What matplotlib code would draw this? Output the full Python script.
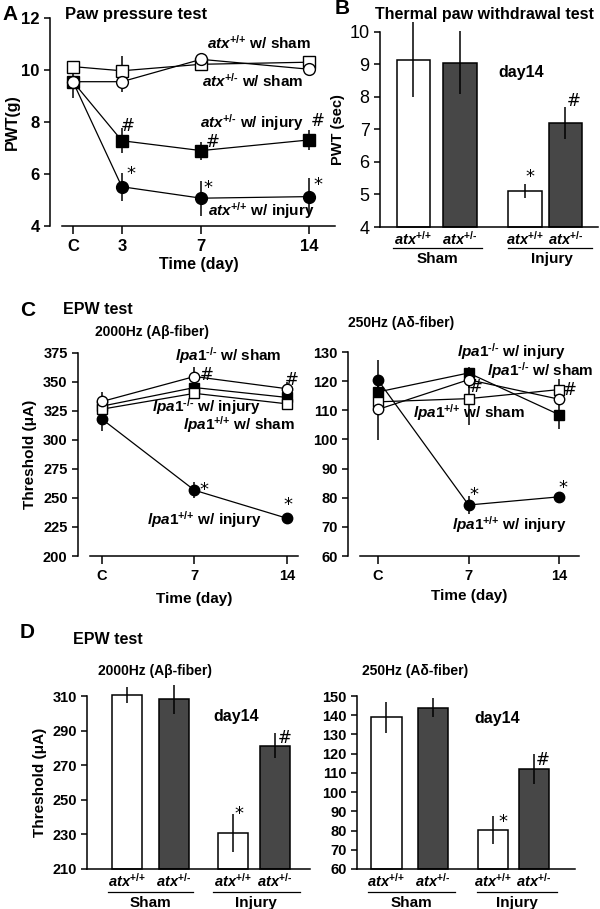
import matplotlib
matplotlib.use('Agg')
import matplotlib.pyplot as plt
from matplotlib.lines import Line2D

W, H = 600, 909

plt.rcParams['font.family'] = ['Liberation Sans', 'DejaVu Sans']
plt.rcParams['font.weight'] = 'bold'
plt.rcParams['axes.labelweight'] = 'bold'
plt.rcParams['mathtext.fontset'] = 'custom'
plt.rcParams['mathtext.rm'] = 'Liberation Sans:bold'
plt.rcParams['mathtext.it'] = 'Liberation Sans:italic:bold'
plt.rcParams['mathtext.bf'] = 'Liberation Sans:bold'
plt.rcParams['axes.linewidth'] = 1.1
plt.rcParams['xtick.major.width'] = 1.1
plt.rcParams['ytick.major.width'] = 1.1

# ---- panel A: paw pressure test, PWT (g)
days_a = ['C', '3', '7', '14']
xpos_a = [0, 2.9, 7.6, 14]
a_wt_sham = [9.55, 9.55, 10.41, 10.03]
a_wt_sham_err = [0.63, 0.4, 0.1, 0.1]
a_het_sham = [10.13, 9.97, 10.22, 10.3]
a_het_sham_err = [0.1, 0.57, 0.1, 0.1]
a_het_inj = [9.55, 7.28, 6.9, 7.31]
a_het_inj_err = [0.0, 0.48, 0.35, 0.37]
a_wt_inj = [9.55, 5.51, 5.07, 5.13]
a_wt_inj_err = [0.0, 0.53, 0.67, 0.7]

# ---- panel B: thermal paw withdrawal, day 14
WT = r'$atx^{\text{+/+}}$'
HET = r'$atx^{\text{+/-}}$'
bar_labels = [WT, HET, WT, HET]
b_pwt = [9.15, 9.05, 5.1, 7.2]
b_err = [1.15, 0.97, 0.22, 0.48]

# ---- panel C: EPW test time course, threshold (uA)
days_c = ['C', '7', '14']
c1_ko_sham = [333, 354.5, 344]
c1_ko_sham_err = [8, 8, 6]
c1_ko_inj = [329, 345, 336.5]
c1_ko_inj_err = [4, 4, 3]
c1_wt_sham = [326.4, 340, 331]
c1_wt_sham_err = [3, 3, 3]
c1_wt_inj = [317.8, 256.6, 232.5]
c1_wt_inj_err = [10, 7, 2]

c2_ko_sham = [110.3, 120.5, 113.8]
c2_ko_sham_err = [10.5, 3, 2]
c2_ko_inj = [116.3, 122.8, 108.5]
c2_ko_inj_err = [3, 2, 5]
c2_wt_sham = [112.9, 114, 117.1]
c2_wt_sham_err = [3, 9, 3.5]
c2_wt_inj = [120.3, 77.5, 80.3]
c2_wt_inj_err = [7, 3, 1]

# ---- panel D: EPW test day 14 bars
d1_vals = [310.8, 308.1, 230.8, 281.2]
d1_err = [4.6, 8.5, 11, 7.3]
d2_vals = [138.9, 143.9, 80.2, 112.0]
d2_err = [8.2, 5, 7.4, 8]

DARK = '#474747'
KO = r'$lpa1^{\text{-/-}}$'
LWT = r'$lpa1^{\text{+/+}}$'


def rect(l, t, r, b):
    return [l / W, 1 - b / H, (r - l) / W, (b - t) / H]


def ftext(x, y, s, **kw):
    kw.setdefault('va', 'center')
    kw.setdefault('ha', 'left')
    fig.text(x / W, 1 - y / H, s, **kw)


def hline(x1, x2, y):
    fig.add_artist(Line2D([x1 / W, x2 / W], [1 - y / H, 1 - y / H],
                          transform=fig.transFigure, color='k', lw=0.9))


def mark(ax, x, y, s, dx, dy, size=12):
    # '#' and '*' significance marks, offset in pixels from the point
    ax.annotate(s, (x, y), xytext=(dx * 0.72, dy * 0.72), textcoords='offset points',
                ha='center', va='center', fontsize=size, fontweight='normal',
                family='DejaVu Sans', annotation_clip=False)


def bold_ticks(ax):
    for t in ax.get_xticklabels() + ax.get_yticklabels():
        t.set_fontweight('bold')


def series(ax, x, y, err, marker, filled, ms):
    ax.errorbar(x, y, yerr=err, color='k', lw=0.9, elinewidth=1.1, capsize=0,
                marker=marker, ms=ms, mfc='k' if filled else 'white', mec='k',
                mew=1.0, zorder=3 if filled else 4, clip_on=False)


def line_axes(ax, outward):
    ax.spines['top'].set_visible(False)
    ax.spines['right'].set_visible(False)
    ax.spines['left'].set_position(('outward', outward * 0.72))


def bar_panel(ax, pos, vals, err, width, base):
    colors = ['white', DARK, 'white', DARK]
    heights = [v - base for v in vals]
    bars = ax.bar(pos, heights, bottom=base, width=width, color=colors,
                  edgecolor='k', lw=1.1, zorder=2)
    for b in bars:
        b.set_clip_on(False)
    ax.errorbar(pos, vals, yerr=err, fmt='none', ecolor='k', elinewidth=1.1,
                capsize=0, zorder=3, clip_on=False)
    ax.spines['top'].set_visible(False)
    ax.spines['right'].set_visible(False)
    ax.set_xticks(pos)
    ax.set_xticklabels(bar_labels, fontsize=10.5)
    ax.tick_params(axis='x', length=0, pad=2)


fig = plt.figure(figsize=(W / 100, H / 100), dpi=100)

# ================= A
axA = fig.add_axes(rect(62, 18, 335, 226))
series(axA, xpos_a, a_wt_inj, a_wt_inj_err, 'o', True, 8.5)
series(axA, xpos_a, a_het_inj, a_het_inj_err, 's', True, 8.5)
series(axA, xpos_a, a_het_sham, a_het_sham_err, 's', False, 8.5)
series(axA, xpos_a, a_wt_sham, a_wt_sham_err, 'o', False, 8.5)
axA.set_xlim(-0.65, 15.54)
axA.set_ylim(4, 12)
axA.set_yticks([4, 6, 8, 10, 12])
axA.set_xticks(xpos_a)
axA.set_xticklabels(days_a)
axA.tick_params(labelsize=12)
axA.tick_params(axis='y', length=4)
axA.tick_params(axis='x', length=6)
bold_ticks(axA)
line_axes(axA, 12)
axA.set_ylabel('PWT(g)', fontsize=11.5, labelpad=1)
axA.set_xlabel('Time (day)', fontsize=11.5, labelpad=2)
for i in [1, 2, 3]:
    mark(axA, xpos_a[i], a_het_inj[i], '#', [6, 12, 9][i - 1], [15, 9, 19][i - 1])
    mark(axA, xpos_a[i], a_wt_inj[i], '*', [9, 7, 9][i - 1], [13, 10, 12][i - 1], 13)
ftext(2, 14, 'A', fontsize=15)
ftext(65, 15, 'Paw pressure test', fontsize=12)
ftext(207, 43, r'$atx^{\text{+/+}}$ w/ sham', fontsize=11)
ftext(202, 81, r'$atx^{\text{+/-}}$ w/ sham', fontsize=11)
ftext(200, 123, r'$atx^{\text{+/-}}$ w/ injury', fontsize=11)
ftext(208, 211, r'$atx^{\text{+/+}}$ w/ injury', fontsize=11)

# ================= B
axB = fig.add_axes(rect(380, 32, 598, 227))
pos_b = [0, 1, 2.4, 3.27]
bar_panel(axB, pos_b, b_pwt, b_err, 0.72, 4)
axB.set_xlim(-0.72, 3.97)
axB.set_ylim(4, 10)
axB.set_yticks(range(4, 11))
axB.set_yticklabels([str(v) for v in range(4, 11)])
axB.tick_params(axis='y', labelsize=13, length=4)
for t in axB.get_xticklabels():
    t.set_fontweight('bold')
for t in axB.get_yticklabels():
    t.set_fontweight('normal')
axB.set_ylabel('PWT (sec)', fontsize=10.5, labelpad=3)
mark(axB, pos_b[2], b_pwt[2], '*', 5, 7 + 0.22 * 32.5, 13)
mark(axB, pos_b[3], b_pwt[3], '#', 8, 11 + 0.48 * 32.5 - 5)
ftext(335, 9, 'B', fontsize=15)
ftext(375, 14, 'Thermal paw withdrawal test', fontsize=11.5)
ftext(498, 73, 'day14', fontsize=11.5)
hline(393, 482, 248)
hline(508, 592, 248)
ftext(437, 259, 'Sham', fontsize=11, ha='center')
ftext(552, 259, 'Injury', fontsize=11, ha='center')

# ================= C left
xc = [0, 1, 2]
axC1 = fig.add_axes(rect(90, 352.7, 298, 556))
series(axC1, xc, c1_wt_inj, c1_wt_inj_err, 'o', True, 7.5)
series(axC1, xc, c1_ko_inj, c1_ko_inj_err, 's', True, 7.5)
series(axC1, xc, c1_wt_sham, c1_wt_sham_err, 's', False, 7.5)
series(axC1, xc, c1_ko_sham, c1_ko_sham_err, 'o', False, 7.5)
axC1.set_xlim(-0.13, 2.12)
axC1.set_ylim(200, 375)
axC1.set_yticks(range(200, 376, 25))
axC1.set_xticks(xc)
axC1.set_xticklabels(days_c)
axC1.tick_params(labelsize=10.5)
axC1.tick_params(axis='y', length=4)
axC1.tick_params(axis='x', length=6)
bold_ticks(axC1)
line_axes(axC1, 12)
axC1.set_ylabel('Threshold (μA)', fontsize=11, labelpad=4)
axC1.set_xlabel('Time (day)', fontsize=11, labelpad=6)
mark(axC1, xc[1], c1_ko_sham[1], '#', 12, 2)
mark(axC1, xc[2], c1_ko_sham[2], '#', 5, 9)
mark(axC1, xc[1], c1_wt_inj[1], '*', 10, 0, 13)
mark(axC1, xc[2], c1_wt_inj[2], '*', 1, 13, 13)
ftext(20, 311, 'C', fontsize=15)
ftext(63, 309, 'EPW test', fontsize=11.5)
ftext(95, 332, '2000Hz (Aβ-fiber)', fontsize=10)
ftext(175, 356, KO + ' w/ sham', fontsize=11)
ftext(152, 407, KO + ' w/ injury', fontsize=11)
ftext(183, 425, LWT + ' w/ sham', fontsize=11)
ftext(147, 520, LWT + ' w/ injury', fontsize=11)

# ================= C right
axC2 = fig.add_axes(rect(360, 352, 579, 556))
series(axC2, xc, c2_wt_inj, c2_wt_inj_err, 'o', True, 7.5)
series(axC2, xc, c2_ko_inj, c2_ko_inj_err, 's', True, 7.5)
series(axC2, xc, c2_wt_sham, c2_wt_sham_err, 's', False, 7.5)
series(axC2, xc, c2_ko_sham, c2_ko_sham_err, 'o', False, 7.5)
axC2.set_xlim(-0.2, 2.22)
axC2.set_ylim(60, 130)
axC2.set_yticks(range(60, 131, 10))
axC2.set_xticks(xc)
axC2.set_xticklabels(days_c)
axC2.tick_params(labelsize=10.5)
axC2.tick_params(axis='y', length=4)
axC2.tick_params(axis='x', length=6)
bold_ticks(axC2)
line_axes(axC2, 12)
axC2.set_xlabel('Time (day)', fontsize=11, labelpad=4)
mark(axC2, xc[1], c2_wt_sham[1], '#', 7, 12)
mark(axC2, xc[2], c2_wt_sham[2], '#', 11, 0)
mark(axC2, xc[1], c2_wt_inj[1], '*', 5, 10, 13)
mark(axC2, xc[2], c2_wt_inj[2], '*', 4, 9, 13)
ftext(348, 323, '250Hz (Aδ-fiber)', fontsize=10)
ftext(457, 352, KO + ' w/ injury', fontsize=11)
ftext(487, 371, KO + ' w/ sham', fontsize=11)
ftext(413, 413, LWT + ' w/ sham', fontsize=11)
ftext(452, 525, LWT + ' w/ injury', fontsize=11)

# ================= D left
axD1 = fig.add_axes(rect(87, 696, 310, 869))
pos_d1 = [0, 1, 2.245, 3.15]
bar_panel(axD1, pos_d1, d1_vals, d1_err, 0.64, 210)
axD1.set_xlim(-0.85, 3.89)
axD1.set_ylim(210, 310)
axD1.set_yticks(range(210, 311, 20))
axD1.tick_params(axis='y', labelsize=10.5, length=4)
bold_ticks(axD1)
axD1.set_ylabel('Threshold (μA)', fontsize=11, labelpad=4)
mark(axD1, pos_d1[2], d1_vals[2], '*', 6, 10 + 11 * 1.73 - 10, 13)
mark(axD1, pos_d1[3], d1_vals[3], '#', 10, 8)
ftext(20, 632, 'D', fontsize=15)
ftext(73, 639, 'EPW test', fontsize=11.5)
ftext(98, 671, '2000Hz (Aβ-fiber)', fontsize=10)
ftext(213, 716, 'day14', fontsize=11.5)
hline(108, 193, 892)
hline(213, 300, 892)
ftext(150, 903, 'Sham', fontsize=11, ha='center')
ftext(256, 903, 'Injury', fontsize=11, ha='center')

# ================= D right
axD2 = fig.add_axes(rect(357, 696, 575, 869))
pos_d2 = [0, 1, 2.29, 3.17]
bar_panel(axD2, pos_d2, d2_vals, d2_err, 0.66, 60)
axD2.set_xlim(-0.63, 4.05)
axD2.set_ylim(60, 150)
axD2.set_yticks(range(60, 151, 10))
axD2.tick_params(axis='y', labelsize=10.5, length=4)
bold_ticks(axD2)
mark(axD2, pos_d2[2], d2_vals[2], '*', 10, 8, 13)
mark(axD2, pos_d2[3], d2_vals[3], '#', 9, 9)
ftext(362, 671, '250Hz (Aδ-fiber)', fontsize=10)
ftext(474, 719, 'day14', fontsize=11.5)
hline(368, 455, 892)
hline(477, 557, 892)
ftext(411, 903, 'Sham', fontsize=11, ha='center')
ftext(517, 903, 'Injury', fontsize=11, ha='center')

fig.savefig('out.png', dpi=100)
